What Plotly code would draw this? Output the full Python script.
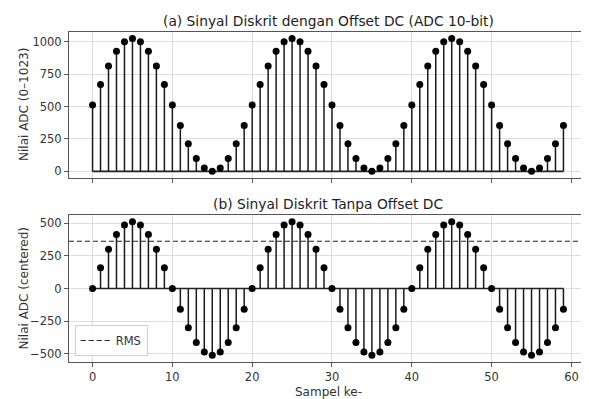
import plotly.graph_objects as go

sample_idx = list(range(60))
adc_values = [512, 670, 812, 925, 998, 1023, 998, 925, 812, 670, 512, 354, 212, 99, 26, 1, 26, 99, 212, 354,
              512, 670, 812, 925, 998, 1023, 998, 925, 812, 670, 512, 354, 212, 99, 26, 1, 26, 99, 212, 354,
              512, 670, 812, 925, 998, 1023, 998, 925, 812, 670, 512, 354, 212, 99, 26, 1, 26, 99, 212, 354]
centered_values = [0, 158, 300, 413, 486, 511, 486, 413, 300, 158, 0, -158, -300, -413, -486, -511, -486, -413, -300, -158,
                   0, 158, 300, 413, 486, 511, 486, 413, 300, 158, 0, -158, -300, -413, -486, -511, -486, -413, -300, -158,
                   0, 158, 300, 413, 486, 511, 486, 413, 300, 158, 0, -158, -300, -413, -486, -511, -486, -413, -300, -158]
rms_value = 361
title_a = "(a) Sinyal Diskrit dengan Offset DC (ADC 10-bit)"
title_b = "(b) Sinyal Diskrit Tanpa Offset DC"
ylabel_a = "Nilai ADC (0–1023)"
ylabel_b = "Nilai ADC (centered)"
xlabel = "Sampel ke-"
x_ticks = [0, 10, 20, 30, 40, 50, 60]
ya_ticks = [0, 250, 500, 750, 1000]
yb_ticks = [-500, -250, 0, 250, 500]

FONT = "DejaVu Sans"
fig = go.Figure()


def stems(xs, ys):
    sx, sy = [], []
    for x, y in zip(xs, ys):
        sx += [x, x, None]
        sy += [0, y, None]
    return sx, sy


for vals, xa, ya in [(adc_values, "x", "y"), (centered_values, "x2", "y2")]:
    sx, sy = stems(sample_idx, vals)
    fig.add_trace(go.Scatter(x=sx, y=sy, mode="lines", line=dict(color="#1a1a1a", width=1.5),
                             xaxis=xa, yaxis=ya, showlegend=False, hoverinfo="skip"))
    fig.add_trace(go.Scatter(x=[sample_idx[0], sample_idx[-1]], y=[0, 0], mode="lines",
                             line=dict(color="#222", width=1.7), xaxis=xa, yaxis=ya,
                             showlegend=False, hoverinfo="skip"))
    fig.add_trace(go.Scatter(x=sample_idx, y=vals, mode="markers",
                             marker=dict(color="black", size=7), xaxis=xa, yaxis=ya,
                             showlegend=False))

fig.add_trace(go.Scatter(x=[-2.95, 61.95], y=[rms_value, rms_value], mode="lines",
                         line=dict(color="#222", width=1.1, dash="5px,3px"), name="RMS",
                         xaxis="x2", yaxis="y2", showlegend=True))

axis_common = dict(showgrid=True, gridcolor="#dcdcdc", gridwidth=1, showline=True,
                   linecolor="#555", linewidth=1, mirror=True, ticks="outside", ticklen=4,
                   tickcolor="#555", zeroline=False, automargin=False,
                   tickfont=dict(family=FONT, size=11.5, color="#333"))

TOP_A, BOT_A = 1.0, 0.5576
TOP_B = 0.4455
lab_font = dict(family=FONT, size=12, color="#333")
ttl_font = dict(family=FONT, size=13.8, color="#222")

fig.update_layout(
    width=581, height=391,
    margin=dict(l=61, r=2, t=24, b=37),
    plot_bgcolor="white", paper_bgcolor="white",
    font=dict(family=FONT, size=11, color="#333"),
    xaxis=dict(domain=[0, 1], anchor="y", range=[-2.95, 61.95], tickvals=x_ticks,
               showticklabels=False, **axis_common),
    yaxis=dict(domain=[BOT_A, TOP_A], anchor="x", range=[-51, 1074], tickvals=ya_ticks,
               **axis_common),
    xaxis2=dict(domain=[0, 1], anchor="y2", range=[-2.95, 61.95], tickvals=x_ticks,
                **axis_common),
    yaxis2=dict(domain=[0, TOP_B], anchor="x2", range=[-562, 562], tickvals=yb_ticks,
                **axis_common),
    legend=dict(x=0.011, y=0.018, xanchor="left", yanchor="bottom", bgcolor="rgba(255,255,255,0.85)",
                bordercolor="#d0d0d0", borderwidth=1, font=dict(family=FONT, size=11.5, color="#333"),
                itemwidth=30, tracegroupgap=0),
    annotations=[
        dict(text=title_a, xref="paper", yref="paper", x=0.5, y=TOP_A, yanchor="bottom", yshift=1,
             showarrow=False, font=ttl_font),
        dict(text=title_b, xref="paper", yref="paper", x=0.5, y=TOP_B, yanchor="bottom", yshift=1,
             showarrow=False, font=ttl_font),
        dict(text=ylabel_a, xref="paper", yref="paper", x=0, xshift=-45, y=(TOP_A + BOT_A) / 2,
             xanchor="center", yanchor="middle", textangle=-90, showarrow=False, font=lab_font),
        dict(text=ylabel_b, xref="paper", yref="paper", x=0, xshift=-45, y=TOP_B / 2,
             xanchor="center", yanchor="middle", textangle=-90, showarrow=False, font=lab_font),
        dict(text=xlabel, xref="paper", yref="paper", x=0.5, y=0, yanchor="top", yshift=-21,
             showarrow=False, font=lab_font),
    ],
)

fig.write_html("out.html")
